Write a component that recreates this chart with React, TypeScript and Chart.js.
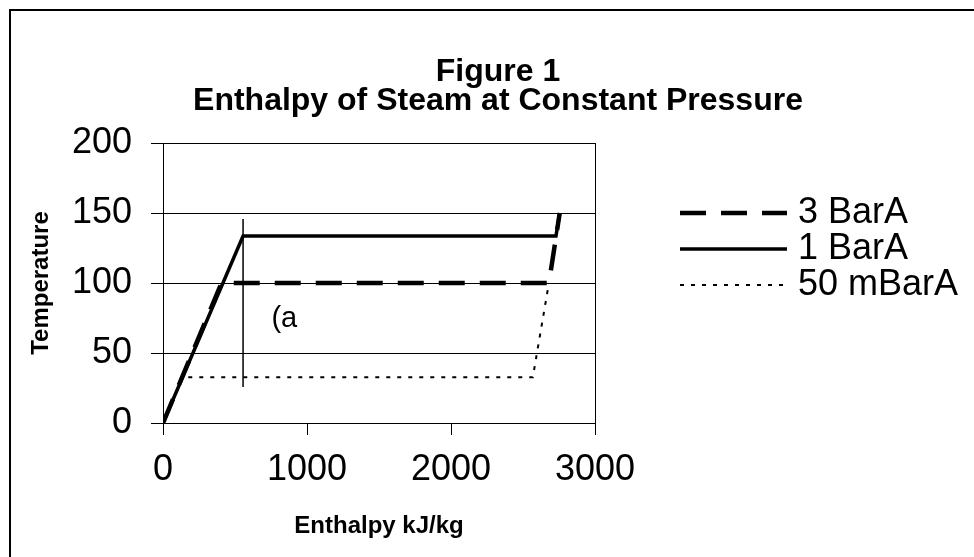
import React, { useEffect, useRef } from "react";
import { Chart, registerables } from "chart.js";

Chart.register(...registerables);

// ---- data ----
const seriesLabels = ["3 BarA", "1 BarA", "50 mBarA"];
const enthalpy3Bar = [0, 406, 2680, 2755];
const temp3Bar = [0, 100, 100, 150];
const enthalpy1Bar = [0, 556, 2729, 2755];
const temp1Bar = [0, 133.5, 133.5, 150];
const enthalpy50m = [0, 140, 2568, 2680];
const temp50m = [0, 32.6, 32.6, 100];
const markerEnthalpy = [556, 556];
const markerTemp = [25.7, 145.7];
const noteText = "(a";
const notePos = [753, 74];
const titleLines = ["Figure 1", "Enthalpy of Steam at Constant Pressure"];
const xTitle = "Enthalpy kJ/kg";
const yTitle = "Temperature";
const xRange = [0, 3000, 1000];
const yRange = [0, 200, 50];

const FONT = "'Liberation Sans', Arial, sans-serif";

const pts = (xs: number[], ys: number[]) => xs.map((x, i) => ({ x, y: ys[i] }));

export default function App() {
  const ref = useRef<HTMLCanvasElement | null>(null);

  useEffect(() => {
    if (!ref.current) return;

    const framePlugin = {
      id: "frame",
      beforeDraw(chart: any) {
        const ctx = chart.ctx;
        ctx.save();
        ctx.fillStyle = "#ffffff";
        ctx.fillRect(0, 0, chart.width, chart.height);
        ctx.strokeStyle = "#000000";
        ctx.lineWidth = 2;
        ctx.strokeRect(10, 10, chart.width + 20, chart.height + 20);
        ctx.restore();
      },
    };

    const titlePlugin = {
      id: "twoLineTitle",
      afterDraw(chart: any) {
        const ctx = chart.ctx;
        const rows = [72, 101];
        ctx.save();
        ctx.fillStyle = "#000";
        ctx.font = `bold 32px ${FONT}`;
        ctx.textAlign = "center";
        ctx.textBaseline = "middle";
        titleLines.forEach((t, i) => ctx.fillText(t, 498, rows[i]));
        ctx.restore();
      },
    };

    const notePlugin = {
      id: "note",
      afterDatasetsDraw(chart: any) {
        const ctx = chart.ctx;
        const x = chart.scales.x.getPixelForValue(notePos[0]);
        const y = chart.scales.y.getPixelForValue(notePos[1]);
        ctx.save();
        ctx.fillStyle = "#000";
        ctx.font = `29px ${FONT}`;
        ctx.textAlign = "left";
        ctx.textBaseline = "middle";
        ctx.fillText(noteText, x, y);
        ctx.restore();
      },
    };

    const legendPlugin = {
      id: "customLegend",
      afterDraw(chart: any) {
        const ctx = chart.ctx;
        const rows = [213, 249, 285];
        ctx.save();
        seriesLabels.forEach((label, i) => {
          const ds = chart.data.datasets[i];
          const y = rows[i];
          ctx.strokeStyle = "#000";
          ctx.lineWidth = ds.borderWidth;
          ctx.setLineDash(ds.borderDash || []);
          ctx.lineCap = "butt";
          ctx.beginPath();
          ctx.moveTo(680, y);
          ctx.lineTo(787, y);
          ctx.stroke();
          ctx.setLineDash([]);
          ctx.fillStyle = "#000";
          ctx.font = `36px ${FONT}`;
          ctx.textAlign = "left";
          ctx.textBaseline = "middle";
          ctx.fillText(label, 798, y);
        });
        ctx.restore();
      },
    };

    const chart = new Chart(ref.current, {
      type: "line",
      data: {
        datasets: [
          {
            label: seriesLabels[0],
            data: pts(enthalpy3Bar, temp3Bar),
            borderColor: "#000",
            borderWidth: 4.5,
            borderDash: [26, 15],
            pointRadius: 0,
            tension: 0,
            fill: false,
          },
          {
            label: seriesLabels[1],
            data: pts(enthalpy1Bar, temp1Bar),
            borderColor: "#000",
            borderWidth: 3.5,
            pointRadius: 0,
            tension: 0,
            fill: false,
          },
          {
            label: seriesLabels[2],
            data: pts(enthalpy50m, temp50m),
            borderColor: "#000",
            borderWidth: 2,
            borderDash: [4, 7],
            pointRadius: 0,
            tension: 0,
            fill: false,
          },
          {
            label: "marker",
            data: pts(markerEnthalpy, markerTemp),
            borderColor: "#000",
            borderWidth: 1.5,
            pointRadius: 0,
            tension: 0,
            fill: false,
          },
        ],
      },
      options: {
        animation: false,
        responsive: false,
        devicePixelRatio: 1,
        layout: { padding: { top: 143, left: 0, right: 379, bottom: 0 } },
        plugins: {
          legend: { display: false },
          tooltip: { enabled: false },
          title: { display: false },
        },
        scales: {
          x: {
            type: "linear",
            min: xRange[0],
            max: xRange[1],
            afterFit(scale: any) {
              scale.height = 134;
            },
            ticks: {
              stepSize: xRange[2],
              color: "#000",
              font: { family: FONT, size: 36 },
              padding: 13,
              maxRotation: 0,
              callback: (v: any) => String(v),
            },
            grid: {
              drawOnChartArea: true,
              color: (c: any) => (c.tick && c.tick.value === xRange[1] ? "#000" : "rgba(0,0,0,0)"),
              tickColor: "#000",
              tickLength: 12,
              lineWidth: 1,
            },
            border: { display: true, color: "#000", width: 1 },
            title: {
              display: true,
              text: xTitle,
              color: "#000",
              font: { family: FONT, size: 24, weight: "bold" },
              padding: { top: 0, bottom: 16 },
            },
          },
          y: {
            type: "linear",
            min: yRange[0],
            max: yRange[1],
            afterFit(scale: any) {
              scale.width = 163;
            },
            ticks: {
              stepSize: yRange[2],
              color: "#000",
              font: { family: FONT, size: 36 },
              padding: 19,
              callback: (v: any) => String(v),
            },
            grid: {
              color: "#000",
              tickColor: "#000",
              tickLength: 12,
              lineWidth: 1,
            },
            border: { display: true, color: "#000", width: 1 },
            title: {
              display: true,
              text: yTitle,
              color: "#000",
              font: { family: FONT, size: 24, weight: "bold" },
              padding: { top: 27, bottom: 0 },
            },
          },
        },
      },
      plugins: [framePlugin, titlePlugin, notePlugin, legendPlugin],
    } as any);

    return () => chart.destroy();
  }, []);

  return (
    <div style={{ position: "fixed", left: 0, top: 0, width: 974, height: 557 }}>
      <canvas ref={ref} width={974} height={557} style={{ width: 974, height: 557, display: "block" }} />
    </div>
  );
}
